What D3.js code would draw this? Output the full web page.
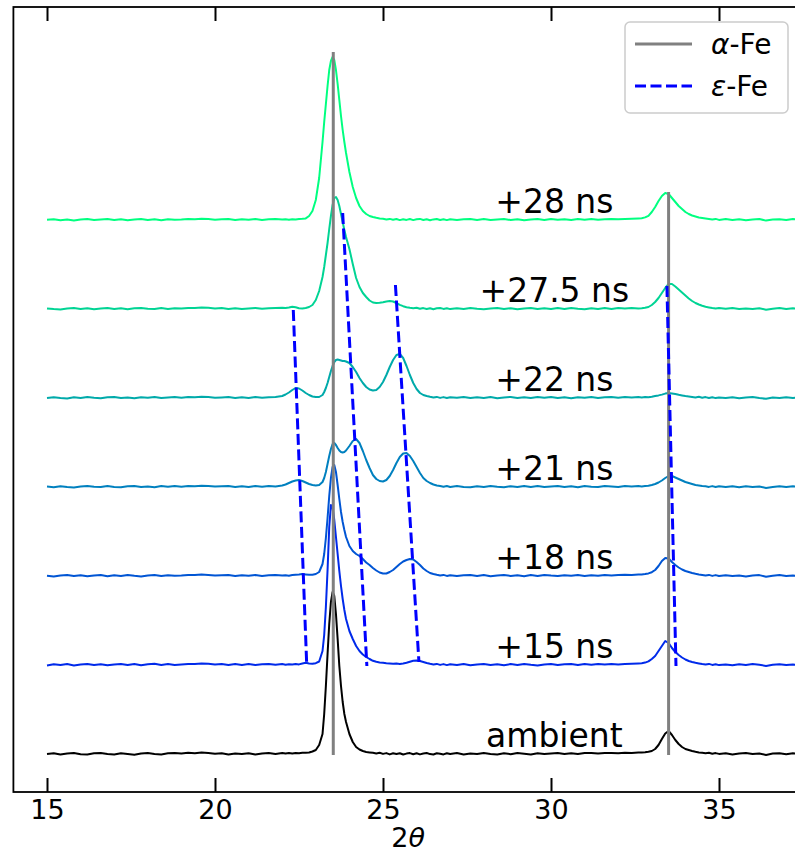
<!DOCTYPE html>
<html><head><meta charset="utf-8">
<script src="https://cdn.jsdelivr.net/npm/d3@7"></script>
<style>
body{margin:0;background:#fff}
svg{display:block}
text{font-family:"DejaVu Sans",sans-serif;fill:#000}
</style>
</head><body>
<svg id="chart" width="795" height="855"></svg>
<script>
// ---- data ----
const twoTheta = [
 15,15.2,15.4,15.6,15.8,16,16.2,16.4,16.6,16.8,17,17.2,17.4,17.6,17.8,18,18.2,18.4,18.6,18.8,19,19.2,19.4,19.6,19.8,20,20.2,20.4,20.6,20.8,21,21.2,21.4,21.6,21.8,22,
 22.1,22.2,22.3,22.4,22.5,22.6,22.7,22.8,22.9,23,23.1,23.2,
 23.25,23.3,23.35,23.4,23.45,23.5,23.55,23.6,23.65,23.7,23.75,23.8,23.85,23.9,
 24,24.1,24.2,24.3,24.4,24.5,24.6,24.7,24.8,24.9,25,25.1,25.2,25.3,25.4,25.5,25.6,25.7,25.8,25.9,26,26.1,26.2,26.3,26.4,26.5,26.6,26.7,26.8,26.9,27,
 27.2,27.4,27.6,27.8,28,28.2,28.4,28.6,28.8,29,29.2,29.4,29.6,29.8,30,30.2,30.4,30.6,30.8,31,31.2,31.4,31.6,31.8,32,32.2,32.4,32.6,
 32.7,32.8,32.9,33,33.1,33.2,33.3,33.4,33.5,33.6,33.7,33.8,33.9,34,34.1,34.2,34.3,34.4,34.5,34.6,34.7,34.8,34.9,35,
 35.2,35.4,35.6,35.8,36,36.2,36.4,36.6,36.8,37,37.2,37.4,37.6
];
const ambient = [
 0.0,0.8,-0.6,0.4,1.0,-0.2,-0.5,0.7,1.1,0.0,-0.5,0.8,0.1,-0.7,0.5,1.0,0.0,-0.4,0.7,1.1,0.4,1.2,0.8,1.5,1.0,0.2,0.8,-0.4,0.6,-0.1,0.8,-0.5,0.4,0.9,0.1,1.0,
 0.4,0.9,0.5,1.0,0.8,1.2,1.3,1.5,2.5,4,9,20,
 40,68,100,130,152,162,158,140,115,88,68,52,40,32,
 20,12,7,4.5,3,2,1.6,1.2,0.6,1.2,0.1,0.9,-0.4,0.7,0.0,0.8,-0.5,0.4,0.9,-0.2,0.7,-0.4,0.5,1.0,-0.1,-0.5,0.7,0.2,-0.4,0.8,0.1,
 0.9,-0.4,0.5,0.0,1.0,0.1,-0.5,0.7,-0.2,0.9,0.3,-0.4,0.8,0.0,0.6,1.1,0.1,0.7,-0.1,0.9,1.1,0.4,0.9,1.1,0.7,1.3,1.0,1.4,
 1.5,1.8,2.2,3,5,9,15,20.5,23,19,14,10,7,5,4,3,2.2,1.6,1.2,0.8,1.2,0.3,0.9,0.1,
 0.8,-0.4,0.5,0.9,-0.1,0.6,-0.9,0.4,0.8,-0.2,0.7,0.1,0.6
];
const ns15 = [
 -0.5,0.7,-0.1,0.9,-0.4,0.5,1.0,-0.1,0.8,-0.3,0.6,1.1,0.0,0.9,-0.3,0.7,1.2,0.1,0.9,0.0,0.6,1.1,1.0,1.6,1.2,0.5,0.9,0.1,1.0,0.0,0.9,-0.1,0.7,1.1,0.2,0.9,
 0.3,0.8,0.5,1.0,0.6,1.5,2.2,1.6,1.2,1.8,3.5,14,
 30,58,95,138,160,157,145,128,111,94,79,66,55,46,
 34,26,19,14,10.5,8,6,4.2,3.2,2.6,2.2,1.8,1.5,1.2,1.4,1.0,1.5,2.2,3.2,4.2,4.6,4.0,3.0,2.0,1.2,0.6,1.1,0.1,0.9,-0.1,0.7,
 0.0,0.9,-0.3,0.6,1.0,0.1,0.8,-0.2,0.9,0.0,1.0,0.2,-0.4,0.6,0.9,-0.1,0.8,1.1,0.0,0.9,0.2,1.0,0.4,1.1,0.6,1.1,1.3,1.6,
 1.8,2.4,3.6,6,9,14,19,24,22,17,13,10,7.5,5.5,4,3,2.2,1.6,1.0,0.6,1.1,0.1,0.8,-0.1,
 0.6,-0.2,0.8,0.0,0.9,0.2,-0.9,0.3,0.8,-0.1,0.6,-0.3,0.5
];
const ns18 = [
 0.3,-0.5,0.6,1.0,-0.1,0.8,-0.3,0.5,0.9,-0.2,0.8,0.1,1.1,0.2,-0.4,0.6,1.0,-0.1,0.8,0.2,0.5,1.0,0.9,1.4,1.1,0.4,0.8,1.0,0.0,0.8,0.2,1.0,-0.1,0.7,1.1,0.4,
 0.7,0.3,0.9,1.2,1.5,1.9,1.6,1.3,1.2,2.0,4.0,12,
 22,38,58,80,98,109,111,104,91,77,64,54,46,39,
 30,25,22,20,17,13.5,11,8,5.5,3.5,2.5,2.5,4,6,9,12,14.5,16,17,16.5,14,11,7.5,5,3,2,1.2,0.5,1.1,0.1,0.8,
 -0.1,0.8,1.1,0.0,0.9,-0.3,0.6,1.0,0.1,0.8,-0.2,0.9,0.0,1.1,0.4,-0.1,0.8,0.2,1.0,0.0,0.8,0.3,1.0,0.5,1.0,1.2,1.0,1.4,
 1.6,2.0,2.6,3.8,6,10,15,18,17.5,14,11,8.5,6.5,5,4,3,2.2,1.6,1.1,0.6,1.1,0.1,0.9,0.0,
 0.8,-0.1,0.6,-0.4,0.5,0.9,-0.8,0.3,0.9,-0.1,0.6,-0.2,0.7
];
const ns21 = [
 0.4,-0.2,0.8,0.1,-0.4,0.6,1.1,0.2,-0.1,0.9,0.1,-0.3,0.8,1.0,0.0,0.6,-0.2,0.9,0.2,1.1,0.3,0.9,0.8,1.3,1.0,0.4,0.7,1.0,0.0,0.7,-0.1,0.9,0.2,1.0,0.5,1.5,
 2.5,4,5.5,6.5,7,6,4.5,3,2,1.5,2,5,
 9,15,23,31,38,43,44,42,39,36.5,35,34.5,35,36.5,
 41,46,48,44,36,27,19,12,8,6,5.5,7,11,17,24,30,33.5,34,31,26,20,14,9,6,4,2.5,1.5,1.0,0.3,1.0,0.0,
 0.9,0.1,-0.3,0.8,0.0,1.0,0.3,-0.2,0.8,0.1,1.1,0.0,0.9,-0.1,0.6,1.0,0.1,0.8,-0.2,0.9,0.3,0.0,1.0,0.5,0.1,1.0,0.6,0.9,
 0.6,0.9,1.2,2,3,4.5,6.5,9,11,11,9.5,8,6.5,5,4,3,2,1.5,1.0,0.7,0.1,0.9,0.0,0.7,
 -0.1,0.7,-0.2,0.8,0.0,0.5,-0.9,0.0,0.8,0.1,0.7,-0.2,0.5
];
const ns22 = [
 0.0,0.8,0.1,-0.4,0.7,-0.1,0.9,0.2,-0.3,0.8,1.0,0.0,0.6,-0.2,0.8,0.2,1.1,-0.1,0.6,0.9,0.2,0.9,0.7,1.2,0.9,0.3,0.6,0.9,-0.1,0.8,0.1,0.9,0.3,0.8,1.0,2.0,
 3.5,5.5,8,10,9.5,7.5,5,3,1.5,1,1,3,
 6,10,15,21,27,32,36,38,38.5,38,37.5,37,37,36.5,
 35,31,26,20,15,11,8.5,7.5,8,11,16,23,31,38,43,44,40,32,23,15,9,5,3,2,1.2,0.5,1.1,0.1,0.9,0.0,0.7,
 0.2,1.0,-0.1,0.8,0.0,0.9,-0.2,0.6,1.1,0.1,0.8,-0.1,0.9,0.2,1.0,0.0,0.7,-0.3,0.8,0.2,0.9,0.0,0.7,1.0,0.3,0.9,0.5,0.9,
 0.6,1.0,0.8,1.3,2.0,2.6,3.4,4.4,5,4.6,4,3.2,2.6,2,1.6,1.1,0.6,1.2,0.3,0.9,0.0,0.7,-0.1,0.6,
 0.1,0.8,-0.2,0.6,0.9,-0.1,-0.8,0.5,-0.1,0.8,0.1,0.7,-0.2
];
const ns27_5 = [
 0.6,-0.1,-0.4,0.5,0.9,0.0,0.8,-0.3,0.5,1.0,0.0,0.7,-0.2,0.8,1.1,0.2,-0.1,0.9,0.1,0.7,0.5,1.0,1.1,1.5,1.2,0.5,0.9,0.1,0.8,-0.1,0.6,1.0,0.2,0.8,1.0,1.2,
 1.0,1.5,2.2,1.8,0.8,0.6,1.0,2,4,9,18,32,
 42,54,66,80,93,104,111,112,109,103,95,87,79,72,
 60,45,31,22,16,12,8.5,6.5,6,6.2,6.8,7.5,8,7.5,6,4.2,2.8,1.8,1.2,0.8,1.2,0.2,0.9,0.0,0.8,-0.2,0.7,1.0,0.1,0.8,-0.1,
 0.8,0.0,1.0,0.2,-0.3,0.6,0.9,0.0,0.8,-0.2,0.6,1.1,0.1,0.8,-0.1,0.9,0.0,1.0,0.3,-0.2,0.8,0.1,0.9,0.0,1.0,0.5,0.9,0.6,
 0.8,1.2,2,4,7,11,16,21,25,25,22.5,19.5,16.5,13.5,10.5,8,6,4.5,3.2,2.2,1.6,1.0,0.5,0.9,
 0.2,0.9,-0.1,0.6,0.0,0.8,-0.7,0.3,0.9,-0.1,0.7,0.1,0.7
];
const ns28 = [
 0.2,0.8,-0.2,0.6,-0.4,0.5,0.9,-0.1,0.6,1.0,0.0,0.8,-0.3,0.5,0.9,0.0,0.7,-0.2,0.8,0.2,0.4,0.9,0.8,1.3,1.0,0.3,0.7,1.0,-0.1,0.8,0.2,0.9,0.0,0.7,1.0,0.4,
 0.7,0.3,0.8,0.5,1.0,1.2,1.6,4,9,20,42,78,
 98,116,134,150,159,163,160,150,136,120,104,90,78,67,
 48,33,22,14,9,6,4,3,2.2,1.5,1.2,0.5,1.1,0.2,1.0,-0.1,0.8,0.1,1.0,-0.1,0.7,1.1,0.0,0.8,-0.2,0.6,1.0,0.0,0.8,-0.1,0.8,
 0.0,0.8,1.1,0.1,0.9,-0.1,0.6,1.0,0.0,0.8,-0.2,0.6,0.9,0.0,1.0,0.2,0.8,-0.1,0.9,0.3,1.0,0.2,0.8,1.0,0.7,1.1,1.3,1.6,
 1.8,2.6,4.2,8,13,19,24,27,26,22,18,14,11,8,6,4.5,3.5,2.5,2,1.5,1.0,0.4,1.1,0.1,
 0.9,0.0,0.7,-0.2,0.6,1.0,-0.6,0.4,0.8,-0.1,0.9,0.1,0.6
];
const seriesLabels = ["ambient","+15 ns","+18 ns","+21 ns","+22 ns","+27.5 ns","+28 ns"];
const seriesValues = [ambient, ns15, ns18, ns21, ns22, ns27_5, ns28];
const seriesOffsets = [0, 89, 178, 267, 356, 445, 534];
const seriesColors = ["#000000","#002aea","#0055d4","#0080bf","#00aaaa","#00d494","#00ff80"];
const xTicks = [15, 20, 25, 30, 35];
// alpha-Fe reference lines: [2theta, y from, y to]
const alphaFe = [[23.52, -1, 702], [33.5, -1, 562]];
// epsilon-Fe guide lines: [2theta top, y top, 2theta bottom, y bottom]
const epsFe = [[22.33, 444, 22.73, 89], [23.80, 541, 24.52, 88], [25.37, 469, 26.07, 92], [33.45, 468, 33.72, 88]];
const labelX = 30.1;

// ---- drawing ----
const svg = d3.select("#chart");
const x = d3.scaleLinear().domain([14, 37.5]).range([13.4, 803]);
const y = d3.scaleLinear().domain([-38, 747]).range([792, 7]);
const [L, R] = x.range(), [B, T] = y.range();

svg.append("defs").append("clipPath").attr("id", "clip")
  .append("rect").attr("x", L).attr("y", T).attr("width", R - L).attr("height", B - T);

const plot = svg.append("g").attr("clip-path", "url(#clip)");

seriesValues.forEach((vals, i) => {
  const n = Math.min(vals.length, twoTheta.length);
  const pts = d3.range(n).map(j => [twoTheta[j], vals[j] + seriesOffsets[i]]);
  plot.append("path")
    .attr("d", d3.line().x(d => x(d[0])).y(d => y(d[1]))(pts))
    .attr("fill", "none").attr("stroke", seriesColors[i])
    .attr("stroke-width", 2).attr("stroke-linejoin", "round");
});

alphaFe.forEach(d => {
  plot.append("line").attr("x1", x(d[0])).attr("x2", x(d[0]))
    .attr("y1", y(d[1])).attr("y2", y(d[2]))
    .attr("stroke", "#808080").attr("stroke-width", 3);
});
epsFe.forEach(d => {
  plot.append("line").attr("x1", x(d[0])).attr("y1", y(d[1]))
    .attr("x2", x(d[2])).attr("y2", y(d[3]))
    .attr("stroke", "#0000ff").attr("stroke-width", 3)
    .attr("stroke-dasharray", "11,4.5");
});

seriesLabels.forEach((t, i) => {
  plot.append("text").attr("x", x(labelX)).attr("y", y(seriesOffsets[i] + 7))
    .attr("text-anchor", "middle").style("font-size", "33px").text(t);
});

// axes (ticks inward)
const xb = svg.append("g").attr("transform", `translate(0,${B})`)
  .call(d3.axisBottom(x).tickValues(xTicks).tickSizeInner(-14).tickSizeOuter(0).tickPadding(8));
xb.select(".domain").remove();
xb.selectAll(".tick line").attr("stroke", "#000").attr("stroke-width", 2);
xb.selectAll(".tick text").style("font-size", "27px").attr("font-family", null);

const xt = svg.append("g").attr("transform", `translate(0,${T})`)
  .call(d3.axisTop(x).tickValues(xTicks).tickSizeInner(-14).tickSizeOuter(0).tickFormat(""));
xt.select(".domain").remove();
xt.selectAll(".tick line").attr("stroke", "#000").attr("stroke-width", 2);

// spines
svg.append("rect").attr("x", L).attr("y", T).attr("width", R - L).attr("height", B - T)
  .attr("fill", "none").attr("stroke", "#000").attr("stroke-width", 1.8);

// axis label
const xl = svg.append("text").attr("x", (L + R) / 2).attr("y", 847)
  .attr("text-anchor", "middle").style("font-size", "27px");
xl.append("tspan").text("2");
xl.append("tspan").style("font-style", "italic").text("θ");

// legend
const lg = svg.append("g");
lg.append("rect").attr("x", 625).attr("y", 22).attr("width", 163).attr("height", 91).attr("rx", 5)
  .attr("fill", "#fff").attr("fill-opacity", 0.8).attr("stroke", "#cccccc").attr("stroke-width", 1.5);
const legendItems = [
  {sym: "α", color: "#808080", dash: null},
  {sym: "ε", color: "#0000ff", dash: "11,4.5"}
];
legendItems.forEach((it, i) => {
  const cy = 44 + i * 42;
  lg.append("line").attr("x1", 635).attr("x2", 692).attr("y1", cy).attr("y2", cy)
    .attr("stroke", it.color).attr("stroke-width", 3).attr("stroke-dasharray", it.dash);
  const t = lg.append("text").attr("x", 711).attr("y", cy + 10).style("font-size", "28px");
  t.append("tspan").style("font-style", "italic").text(it.sym);
  t.append("tspan").text("-Fe");
});
</script>
</body></html>
